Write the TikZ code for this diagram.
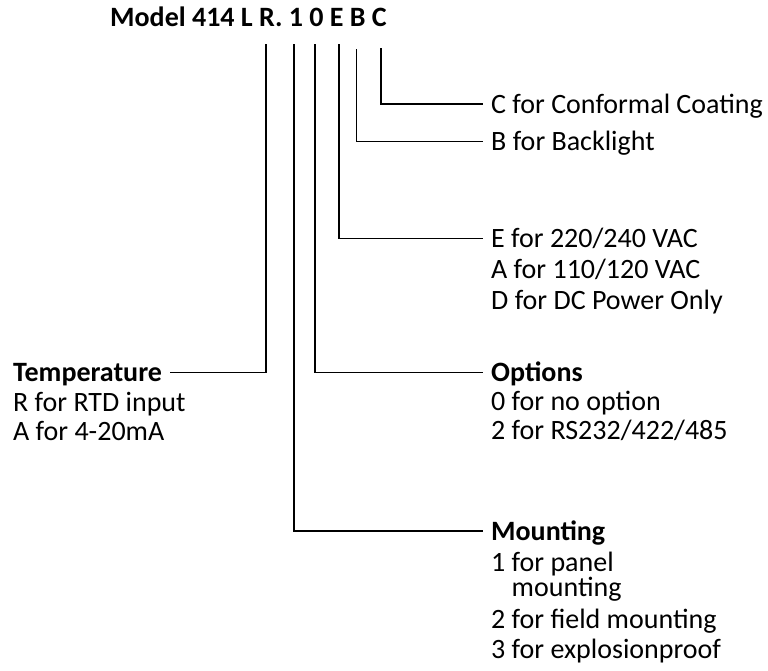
\documentclass[tikz,border=0pt]{standalone}
\usepackage{fontspec}
\setmainfont{Carlito}
\usetikzlibrary{positioning}

\begin{document}
\begin{tikzpicture}[
    x=1pt, y=1pt,
    field/.style={anchor=west, inner xsep=8pt, inner ysep=0pt, text height=18pt, text depth=0pt, font=\fontsize{28}{30}\selectfont},
    head/.style={field, font=\fontsize{28}{30}\selectfont\bfseries},
    choices/.style={inner xsep=8pt, inner ysep=0pt, align=left, font=\fontsize{28}{30}\selectfont, execute at begin node={\rule{0pt}{22pt}}},
    wire/.style={draw, line width=1.8pt}
]
    \useasboundingbox (0,0) rectangle (768,-670);

    % Model code
    \node [anchor=base west, inner sep=0pt, font=\fontsize{28}{30}\selectfont\bfseries] (title) at (110,-26) {Model 414 L R. 1 0 E B C};
    \coordinate (selR) at (266,-44);
    \coordinate (sel1) at (294,-44);
    \coordinate (sel0) at (315,-44);
    \coordinate (selE) at (339,-44);
    \coordinate (selB) at (356.5,-49);
    \coordinate (selC) at (381,-48);

    % Fields on the right
    \node [field] (coat) at (483,-104) {C for Conformal Coating};
    \node [field] (light) at (483,-141.5) {B for Backlight};
    \node [field] (power) at (483,-238.5) {E for 220/240 VAC};
    \node [choices, below=11pt of power.south west, anchor=north west] (powerchoices) {A for 110/120 VAC\\[1pt]D for DC Power Only};
    \node [head] (opt) at (483,-372.5) {Options};
    \node [choices, below=9.5pt of opt.south west, anchor=north west] (optchoices) {0 for no option\\[-1pt]2 for RS232/422/485};
    \node [head] (mount) at (483,-531) {Mounting};
    \node [choices, below=12pt of mount.south west, anchor=north west] (mountchoices) {1 for panel\\[-5pt]\hphantom{1 }mounting\\[2pt]2 for field mounting\\3 for explosionproof};

    % Field on the left
    \node [head] (temp) at (5,-372.5) {Temperature};
    \node [choices, below=10.5pt of temp.south west, anchor=north west] (tempchoices) {R for RTD input\\[-1pt]A for 4-20mA};

    % Leaders from the code letters
    \path [wire] (selC) |- (coat.west);
    \path [wire] (selB) |- (light.west);
    \path [wire] (selE) |- (power.west);
    \path [wire] (sel0) |- (opt.west);
    \path [wire] (sel1) |- (mount.west);
    \path [wire] (selR) |- (temp.east);

\end{tikzpicture}
\end{document}
